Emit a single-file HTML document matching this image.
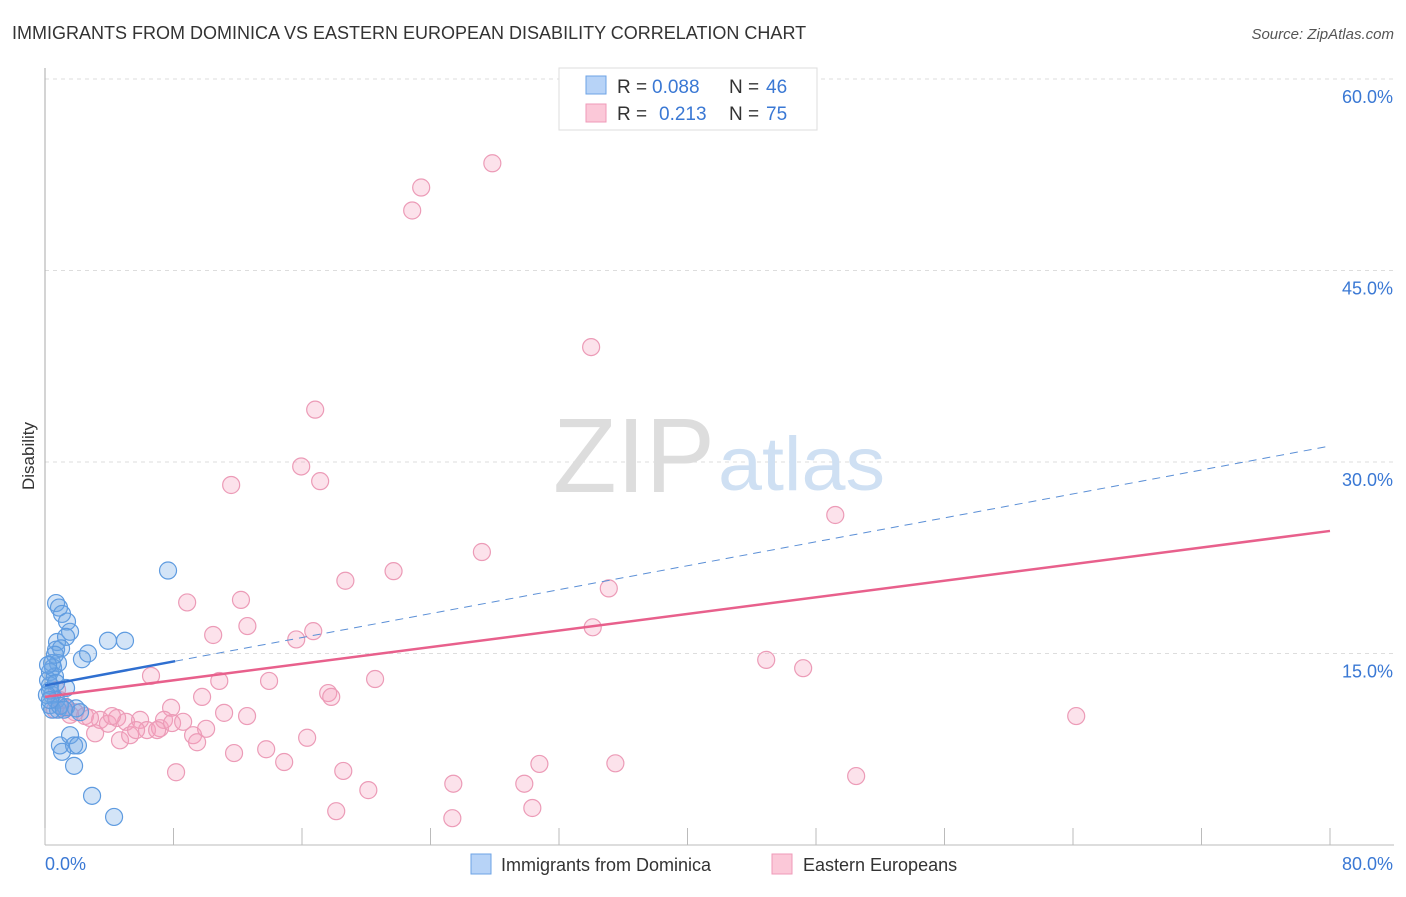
<!DOCTYPE html>
<html><head><meta charset="utf-8"><style>
body{margin:0;background:#fff;font-family:"Liberation Sans",sans-serif}
svg text{font-family:"Liberation Sans",sans-serif}
</style></head><body>
<svg id="chart" width="1406" height="892" xmlns="http://www.w3.org/2000/svg">
<text x="12" y="39" font-size="18" fill="#333">IMMIGRANTS FROM DOMINICA VS EASTERN EUROPEAN DISABILITY CORRELATION CHART</text>
<text x="1394" y="39" font-size="15" fill="#555" text-anchor="end" font-style="italic">Source: ZipAtlas.com</text>
<g id="grid"></g>
<g><text x="553" y="492" font-size="106" fill="#ddd" font-family="Liberation Serif,serif" textLength="162" lengthAdjust="spacingAndGlyphs">ZIP</text><text x="718" y="490" font-size="76" fill="#cfe0f3" textLength="167" lengthAdjust="spacingAndGlyphs">atlas</text></g>
<g id="axes"></g>
<g id="marks"></g>
<text transform="translate(34,456) rotate(-90)" font-size="17" fill="#333" text-anchor="middle">Disability</text>
<g>
<rect x="559" y="68" width="258" height="62" fill="#fff" stroke="#ddd"/>
<rect x="586" y="76" width="20" height="18" fill="#b7d3f7" stroke="#6ea3e6"/>
<rect x="586" y="104" width="20" height="18" fill="#fbc8d8" stroke="#ef9ab8"/>
<text x="617" y="93" font-size="19" fill="#333">R =</text>
<text x="652" y="93" font-size="19" fill="#3a78d4">0.088</text>
<text x="729" y="93" font-size="19" fill="#333">N =</text>
<text x="766" y="93" font-size="19" fill="#3a78d4">46</text>
<text x="617" y="120" font-size="19" fill="#333">R =</text>
<text x="659" y="120" font-size="19" fill="#3a78d4">0.213</text>
<text x="729" y="120" font-size="19" fill="#333">N =</text>
<text x="766" y="120" font-size="19" fill="#3a78d4">75</text>
</g>
<g>
<rect x="471" y="854" width="20" height="20" fill="#b7d3f7" stroke="#6ea3e6"/>
<text x="501" y="871" font-size="18" fill="#333">Immigrants from Dominica</text>
<rect x="772" y="854" width="20" height="20" fill="#fbc8d8" stroke="#ef9ab8"/>
<text x="803" y="871" font-size="18" fill="#333">Eastern Europeans</text>
</g>
</svg>
<script>
const yTicks=[15,30,45,60];
const yTickLabels=["15.0%","30.0%","45.0%","60.0%"];
const xTickLabels=["0.0%","80.0%"];
const blueX=[0.69,0.87,1.06,1.37,1.56,0.75,1.31,0.69,1.0,0.44,0.81,0.31,0.62,0.31,1.31,0.44,0.69,0.31,0.81,1.31,2.3,2.68,3.92,4.98,7.66,1.93,0.44,0.93,1.06,1.56,1.81,2.05,1.81,2.93,4.3,0.31,0.19,0.5,0.93,2.18,0.69,0.12,1.18,0.62,0.19,0.31];
const blueY=[18.95,18.6,18.1,17.5,16.7,15.9,16.3,15.3,15.4,14.25,14.25,13.55,13.2,12.5,12.3,11.75,11.35,10.95,10.6,10.8,14.55,15.0,16.0,16.0,21.5,10.7,10.6,7.8,7.3,8.6,7.8,7.8,6.2,3.85,2.2,12.1,12.9,13.9,10.9,10.4,12.7,11.75,10.6,14.9,14.1,11.35];
const pinkX=[27.85,23.42,22.86,34.0,16.82,15.95,17.13,11.59,49.2,27.2,21.7,18.7,35.1,8.85,12.2,12.6,10.47,15.64,16.7,34.1,44.9,47.2,6.6,10.85,13.95,20.55,17.63,17.82,7.85,9.78,11.15,12.58,64.2,0.75,0.93,1.87,2.49,3.43,3.92,4.49,5.05,5.92,6.35,7.16,7.41,7.91,8.6,9.22,10.03,9.47,4.67,3.12,5.3,6.98,5.67,1.25,1.56,2.8,4.17,8.16,11.77,13.77,14.89,16.32,18.57,20.13,18.13,25.42,25.36,29.84,30.34,30.78,35.51,50.5,0.62];
const pinkY=[53.4,51.5,49.7,39.0,34.1,29.65,28.5,28.2,25.85,22.95,21.45,20.7,20.1,19.0,19.2,17.15,16.45,16.1,16.75,17.05,14.5,13.85,13.25,12.85,12.85,13.0,11.9,11.6,10.75,11.6,10.35,10.1,10.1,12.15,11.35,10.4,10.1,9.8,9.5,9.95,9.65,9.8,9.0,9.15,9.8,9.55,9.65,8.6,9.1,8.05,8.2,8.75,8.6,9.0,9.0,10.75,10.2,9.95,10.1,5.7,7.2,7.5,6.5,8.4,5.8,4.3,2.65,4.8,2.1,4.8,2.9,6.35,6.4,5.4,10.6];
const blueTrend=[12.5,31.25];
const pinkTrend=[11.6,24.6];
const blueSolidEnd=8.1;

const NS="http://www.w3.org/2000/svg";
const X=v=>45+v/80*1285;
const Y=v=>845-v/15*191.5;
function mk(tag,attrs,parent){const e=document.createElementNS(NS,tag);for(const k in attrs)e.setAttribute(k,attrs[k]);document.getElementById(parent).appendChild(e);return e;}
yTicks.forEach((t,i)=>{
  const g=mk('line',{x1:45,x2:1394,y1:Y(t),y2:Y(t),stroke:'#ddd','stroke-dasharray':'4,4'},'grid');
  
  
  const l=mk('text',{x:1393,y:Y(t)+24,'font-size':18,fill:'#3a78d4','text-anchor':'end'},'axes');
  l.textContent=yTickLabels[i];
  
  
});
const la=mk('line',{x1:45,x2:45,y1:68,y2:845,stroke:'#aaa'},'axes');


const ba=mk('line',{x1:45,x2:1394,y1:845,y2:845,stroke:'#bbb'},'axes');


for(let i=0;i<=10;i++){
  const t=mk('line',{x1:X(i*8),x2:X(i*8),y1:828,y2:845,stroke:'#bbb'},'axes');
  
  
}
[[0,'start',45],[80,'end',1393]].forEach((d,i)=>{
  const l=mk('text',{x:d[2],y:870,'font-size':18,fill:'#3a78d4','text-anchor':d[1]},'axes');
  l.textContent=xTickLabels[i];
  
  
});
pinkX.forEach((v,i)=>{
  const c=mk('circle',{cx:X(v),cy:Y(pinkY[i]),r:8.5,fill:'rgba(244,160,190,0.3)',stroke:'#ec9bb7','stroke-width':1.2},'marks');
  
  
});
blueX.forEach((v,i)=>{
  const c=mk('circle',{cx:X(v),cy:Y(blueY[i]),r:8.5,fill:'rgba(110,165,230,0.3)',stroke:'#5e9be0','stroke-width':1.2},'marks');
  
  
});
const bAt=v=>blueTrend[0]+(blueTrend[1]-blueTrend[0])*v/80;
const pl=mk('line',{x1:X(0),y1:Y(pinkTrend[0]),x2:X(80),y2:Y(pinkTrend[1]),stroke:'#e8608c','stroke-width':2.5},'marks');


const bd=mk('line',{x1:X(blueSolidEnd),y1:Y(bAt(blueSolidEnd)),x2:X(80),y2:Y(blueTrend[1]),stroke:'#5b8fd6','stroke-width':1,'stroke-dasharray':'8,6'},'marks');


const bs=mk('line',{x1:X(0),y1:Y(blueTrend[0]),x2:X(blueSolidEnd),y2:Y(bAt(blueSolidEnd)),stroke:'#2f6fd0','stroke-width':2.5},'marks');


</script>
</body></html>
